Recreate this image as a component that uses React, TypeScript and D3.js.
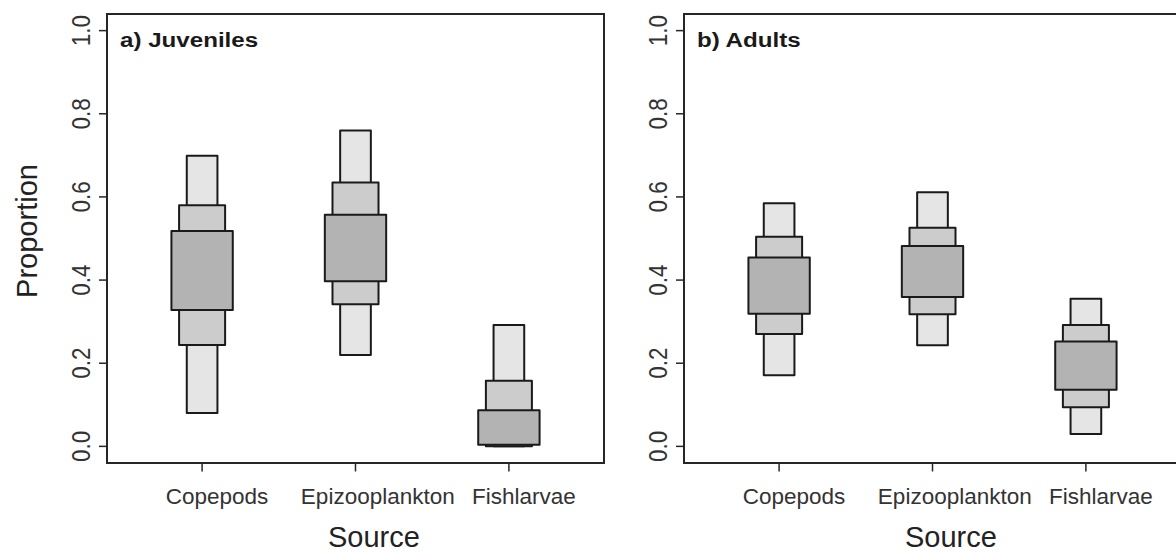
import { useEffect, useRef } from "react"
import * as d3 from "d3"

// categories on the x axis
const sources = ["Copepods", "Epizooplankton", "Fishlarvae"]

// credible intervals [low, high] per source, outer (widest range) to inner
const juvenileOuter = [[0.08, 0.699], [0.22, 0.76], [0.0, 0.292]]
const juvenileMiddle = [[0.244, 0.58], [0.342, 0.635], [0.0, 0.158]]
const juvenileInner = [[0.328, 0.518], [0.397, 0.557], [0.004, 0.087]]

const adultOuter = [[0.171, 0.585], [0.243, 0.611], [0.03, 0.355]]
const adultMiddle = [[0.27, 0.504], [0.318, 0.526], [0.094, 0.292]]
const adultInner = [[0.319, 0.454], [0.359, 0.482], [0.136, 0.252]]

const yTicks = [0, 0.2, 0.4, 0.6, 0.8, 1.0]
const yTickLabels = ["0.0", "0.2", "0.4", "0.6", "0.8", "1.0"]

const panels = [
  { title: "a) Juveniles", outer: juvenileOuter, middle: juvenileMiddle, inner: juvenileInner },
  { title: "b) Adults", outer: adultOuter, middle: adultMiddle, inner: adultInner },
]

const FONT = "'Liberation Sans', Arial, Helvetica, sans-serif"

const App = () => {
  const svgRef = useRef<SVGSVGElement>(null)

  useEffect(() => {
    if (!svgRef.current) return
    const svg = d3.select(svgRef.current)
    svg.selectAll("*").remove()

    const plotW = 497
    const plotH = 449
    const top = 14
    const lefts = [107, 684]

    const x = d3.scaleLinear().domain([0.38, 3.62]).range([0, plotW])
    const y = d3.scaleLinear().domain([-0.04, 1.04]).range([plotH, 0])

    // interval layers: fill colour and box width (in x units)
    const layers = [
      { key: "outer", fill: "#e5e5e5", w: 0.2 },
      { key: "middle", fill: "#cccccc", w: 0.3 },
      { key: "inner", fill: "#b3b3b3", w: 0.4 },
    ]

    panels.forEach((p, pi) => {
      const g = svg.append("g").attr("transform", `translate(${lefts[pi]},${top})`)

      // boxes
      sources.forEach((s, i) => {
        layers.forEach((l) => {
          const iv = (p as any)[l.key][i] as number[]
          const cx = i + 1
          g.append("rect")
            .attr("x", x(cx - l.w / 2))
            .attr("y", y(iv[1]))
            .attr("width", x(cx + l.w / 2) - x(cx - l.w / 2))
            .attr("height", y(iv[0]) - y(iv[1]))
            .attr("fill", l.fill)
            .attr("stroke", "#1a1a1a")
            .attr("stroke-width", 2)
            .attr("stroke-linejoin", "round")
        })
      })

      // frame
      g.append("rect")
        .attr("x", 0)
        .attr("y", 0)
        .attr("width", plotW)
        .attr("height", plotH)
        .attr("fill", "none")
        .attr("stroke", "#262626")
        .attr("stroke-width", 2)

      // y axis
      yTicks.forEach((v, i) => {
        g.append("line")
          .attr("x1", -8)
          .attr("x2", 0)
          .attr("y1", y(v))
          .attr("y2", y(v))
          .attr("stroke", "#262626")
          .attr("stroke-width", 1.5)
        g.append("text")
          .attr("transform", `translate(-17.5,${y(v)}) scale(1.15,1) rotate(-90)`)
          .attr("text-anchor", "middle")
          .attr("font-family", FONT)
          .attr("font-size", 22.5)
          .attr("fill", "#333")
          .text(yTickLabels[i])
      })

      // x axis
      sources.forEach((s, i) => {
        const tx = x(i + 1)
        g.append("line")
          .attr("x1", tx)
          .attr("x2", tx)
          .attr("y1", plotH)
          .attr("y2", plotH + 8.5)
          .attr("stroke", "#262626")
          .attr("stroke-width", 1.5)
        const t = g.append("text")
          .attr("x", tx)
          .attr("y", 503.5 - top)
          .attr("text-anchor", "middle")
          .attr("font-family", FONT)
          .attr("font-size", 22.5)
          .attr("fill", "#333")
          .text(s)
        const len = (t.node() as SVGTextElement).getComputedTextLength()
        t.attr("x", tx + len * 0.145)
      })

      const src = g.append("text")
        .attr("x", plotW / 2)
        .attr("y", 547 - top)
        .attr("text-anchor", "middle")
        .attr("font-family", FONT)
        .attr("font-size", 29)
        .attr("fill", "#222")
        .text("Source")
      const sl = (src.node() as SVGTextElement).getComputedTextLength()
      src.attr("x", plotW / 2 + sl * 0.2)

      // panel title
      g.append("text")
        .attr("transform", `translate(13,${47.3 - top}) scale(1.15,1)`)
        .attr("font-family", FONT)
        .attr("font-size", 21)
        .attr("font-weight", "bold")
        .attr("fill", "#1a1a1a")
        .text(p.title)
    })

    // y axis title
    svg.append("text")
      .attr("transform", `translate(36.5,231) rotate(-90)`)
      .attr("text-anchor", "middle")
      .attr("font-family", FONT)
      .attr("font-size", 29)
      .attr("fill", "#222")
      .text("Proportion")
  }, [])

  return (
    <svg
      ref={svgRef}
      width={1176}
      height={552}
      style={{ position: "absolute", left: 0, top: 0, display: "block", background: "#fff" }}
    ></svg>
  )
}

export default App
